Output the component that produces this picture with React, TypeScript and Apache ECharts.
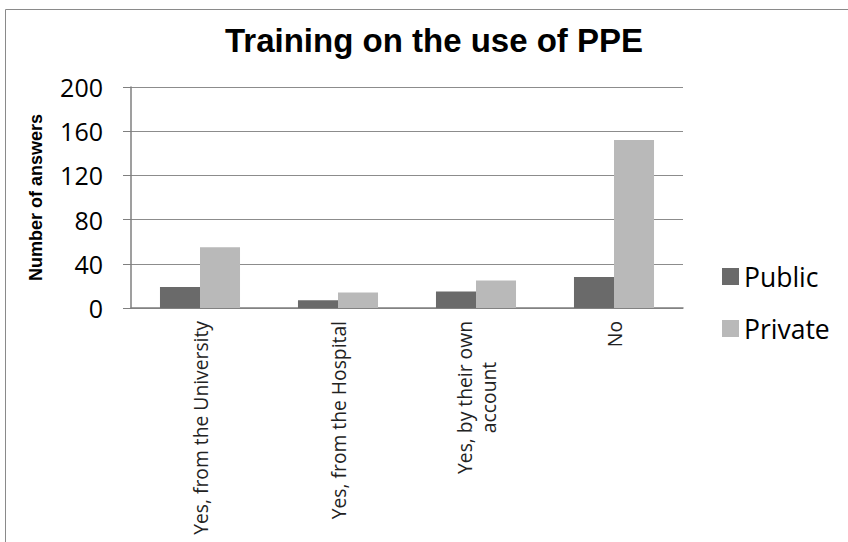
import React, { useEffect, useRef } from "react";
import * as echarts from "echarts";

const categories = [
  "Yes, from the University",
  "Yes, from the Hospital",
  "Yes, by their own\naccount",
  "No",
];
const publicValues = [19, 7, 15, 28];
const privateValues = [55, 14, 25, 152];
const yTicks = { min: 0, max: 200, interval: 40 };

function measure(text: string, font: string): number {
  const ctx = document.createElement("canvas").getContext("2d");
  if (!ctx) return text.length * 10;
  ctx.font = font;
  return ctx.measureText(text).width;
}

export default function App() {
  const ref = useRef<HTMLDivElement>(null);
  useEffect(() => {
    if (!ref.current) return;
    const chart = echarts.init(ref.current, undefined, { renderer: "svg" });
    const labelFont = { fontFamily: "Open Sans", fontSize: 19.3, color: "#222", lineHeight: 24 };
    const firstLine = categories.find((c) => c.includes("\n"))?.split("\n")[0] ?? "";
    const firstWidth = Math.ceil(measure(firstLine, "19.3px 'Open Sans'"));
    chart.setOption({
      animation: false,
      backgroundColor: "#ffffff",
      title: {
        text: "Training on the use of PPE",
        left: 429,
        textAlign: "center",
        top: 19,
        textStyle: {
          fontFamily: "Liberation Sans",
          fontWeight: "bold",
          fontSize: 33,
          color: "#000",
        },
      },
      graphic: [
        {
          type: "rect",
          left: 3,
          top: 7,
          shape: { width: 850, height: 540 },
          style: { fill: "none", stroke: "#8a8a8a", lineWidth: 1 },
          silent: true,
        },
      ],
      legend: {
        orient: "vertical",
        left: 717,
        top: 258,
        itemWidth: 17,
        itemHeight: 17,
        itemGap: 25,
        icon: "rect",
        textStyle: {
          fontFamily: "Open Sans",
          fontSize: 26.5,
          color: "#000",
        },
        data: ["Public", "Private"],
      },
      grid: { left: 131, right: 165, top: 87, bottom: 234, containLabel: false },
      xAxis: {
        type: "category",
        data: categories,
        axisLine: { lineStyle: { color: "#7f7f7f", width: 1.5 } },
        axisTick: { show: false },
        axisLabel: {
          rotate: 90,
          interval: 0,
          margin: 13,
          ...labelFont,
          formatter: (v: string) => {
            const parts = v.split("\n");
            if (parts.length < 2) return v;
            return "{a|" + parts[0] + "}\n{c|" + parts[1] + "}";
          },
          rich: {
            a: { ...labelFont, width: firstWidth, align: "center" },
            c: { ...labelFont, width: firstWidth, align: "center" },
          },
        },
      },
      yAxis: {
        type: "value",
        min: yTicks.min,
        max: yTicks.max,
        interval: yTicks.interval,
        name: "Number of answers",
        nameLocation: "middle",
        nameGap: 86,
        nameTextStyle: {
          fontFamily: "Liberation Sans",
          fontWeight: "bold",
          fontSize: 18,
          color: "#000",
        },
        axisLine: { show: true, lineStyle: { color: "#7f7f7f", width: 1.5 } },
        axisTick: { show: true, length: 8, lineStyle: { color: "#7f7f7f" } },
        splitLine: { lineStyle: { color: "#8c8c8c", width: 1 } },
        axisLabel: {
          fontFamily: "Open Sans",
          fontSize: 25,
          color: "#000",
          margin: 28,
        },
      },
      series: [
        {
          name: "Public",
          type: "bar",
          data: publicValues,
          itemStyle: { color: "#6a6a6a" },
          barGap: "0%",
          barCategoryGap: "42%",
        },
        {
          name: "Private",
          type: "bar",
          data: privateValues,
          itemStyle: { color: "#b9b9b9" },
          barGap: "0%",
          barCategoryGap: "42%",
        },
      ],
    });
    return () => chart.dispose();
  }, []);
  return (
    <div
      ref={ref}
      style={{ position: "fixed", left: 0, top: 0, width: 848, height: 542 }}
    />
  );
}
